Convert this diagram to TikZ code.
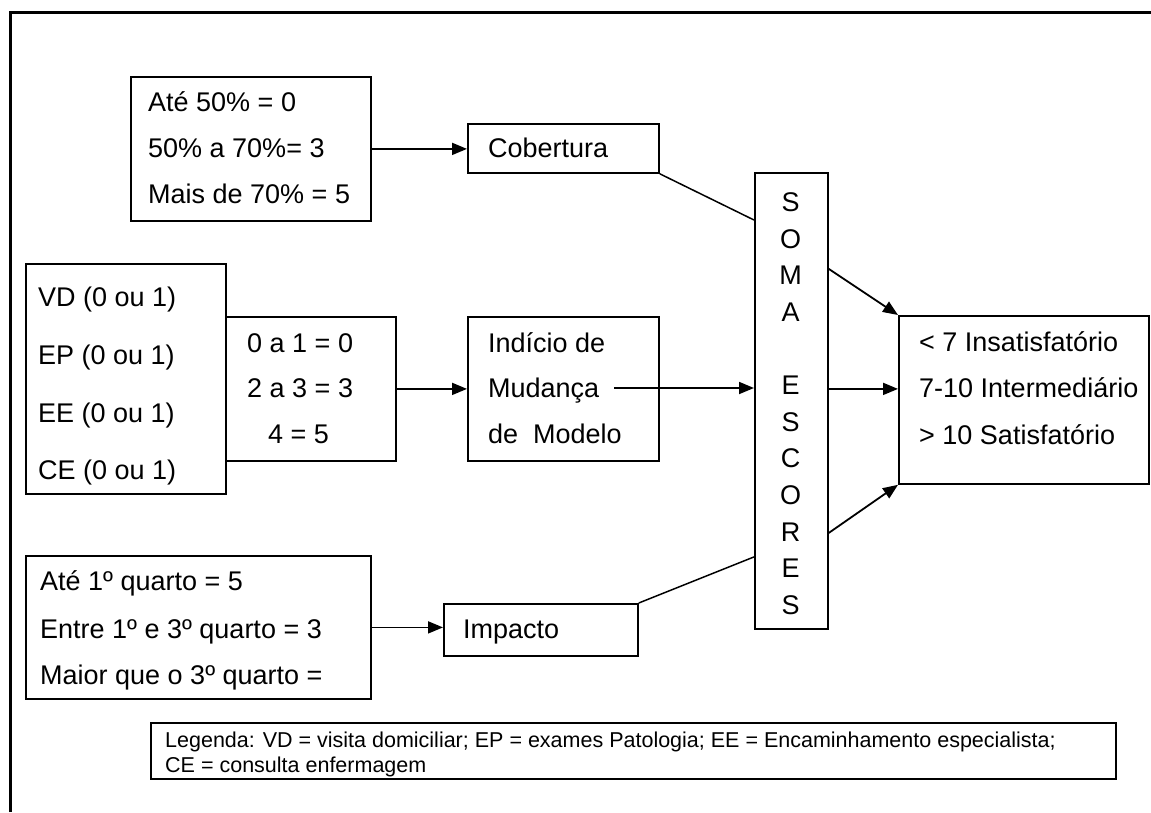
\documentclass[tikz,border=0pt]{standalone}
\usepackage{fontspec}
\setmainfont{Liberation Sans}
\usetikzlibrary{arrows.meta}
\begin{document}
\begin{tikzpicture}[x=1pt,y=-1pt,
  box/.style={draw, line width=1.8pt, inner sep=0pt, anchor=north west},
  txt/.style={anchor=base west, inner sep=0pt, yshift=-9.7pt, font=\fontsize{27}{31}\selectfont},
  lett/.style={anchor=base, inner sep=0pt, yshift=-9.7pt, font=\fontsize{27}{31}\selectfont},
  legtxt/.style={anchor=base west, inner sep=0pt, yshift=-7.6pt, font=\fontsize{21.5}{25}\selectfont},
  arr/.style={-{Triangle[length=15pt,width=12pt]}, line width=1.8pt},
  ln/.style={line width=1.5pt}]
\useasboundingbox (0,0) rectangle (1151,812);
% outer frame
\draw[line width=3pt] (10,812) -- (10,12) -- (1151,12);

% boxes
\node[box, minimum width=240pt, minimum height=144pt] (boxA) at (130,76) {};
\node[box, minimum width=191pt, minimum height=49pt] (cob) at (467,123) {};
\node[box, minimum width=73pt, minimum height=456pt] (soma) at (754,172) {};
\node[box, minimum width=200pt, minimum height=230pt] (vd) at (25,263) {};
\node[box, minimum width=170pt, minimum height=144pt] (cnt) at (225,316) {};
\node[box, minimum width=191pt, minimum height=144pt] (ind) at (467,316) {};
\node[box, minimum width=250pt, minimum height=168pt] (res) at (898,315) {};
\node[box, minimum width=345pt, minimum height=143pt] (boxC) at (25,555) {};
\node[box, minimum width=194pt, minimum height=52pt] (imp) at (443,603) {};
\node[box, minimum width=965pt, minimum height=56pt] (leg) at (150,722) {};

% texts
\node[txt] (a1) at (148,102) {Até 50\% = 0};
\node[txt] (a2) at (148,148) {50\% a 70\%= 3};
\node[txt] (a3) at (148,194) {Mais de 70\% = 5};
\node[txt] (cobt) at (488,148) {Cobertura};

\node[txt] (v1) at (38,297) {VD (0 ou 1)};
\node[txt] (v2) at (38,355) {EP (0 ou 1)};
\node[txt] (v3) at (38,413) {EE (0 ou 1)};
\node[txt] (v4) at (38,470) {CE (0 ou 1)};

\node[txt] (c1) at (247,343) {0 a 1 = 0};
\node[txt] (c2) at (247,388) {2 a 3 = 3};
\node[txt] (c3) at (268,434) {4 = 5};

\node[txt] (i1) at (488,343) {Indício de};
\node[txt] (i2) at (488,388) {Mudança};
\node[txt] (i3) at (488,434) {de~~Modelo};

\node[txt] (r1) at (919,342) {< 7 Insatisfatório};
\node[txt] (r2) at (919,388) {7-10 Intermediário};
\node[txt] (r3) at (919,435) {> 10 Satisfatório};

\node[txt] (q1) at (40,581) {Até 1º quarto = 5};
\node[txt] (q2) at (40,629) {Entre 1º e 3º quarto = 3};
\node[txt] (q3) at (40,675) {Maior que o 3º quarto =};
\node[txt] (impt) at (463,629) {Impacto};

\node[lett] (s1) at (790.5,202) {S};
\node[lett] (s2) at (790.5,238.6) {O};
\node[lett] (s3) at (790.5,275.2) {M};
\node[lett] (s4) at (790.5,311.8) {A};
\node[lett] (s5) at (790.5,385) {E};
\node[lett] (s6) at (790.5,421.6) {S};
\node[lett] (s7) at (790.5,458.2) {C};
\node[lett] (s8) at (790.5,494.8) {O};
\node[lett] (s9) at (790.5,531.4) {R};
\node[lett] (s10) at (790.5,568) {E};
\node[lett] (s11) at (790.5,604.6) {S};

\node[legtxt] (l1) at (165,740) {Legenda: VD = visita domiciliar; EP = exames Patologia; EE = Encaminhamento especialista;};
\node[legtxt] (l2) at (165,765) {CE = consulta enfermagem};

% connectors
\coordinate (mstart) at (614,388);
\draw[arr] (boxA.east) -- (boxA.east -| cob.west);
\draw[ln] (cob.south east) -- ([yshift=-48pt]soma.north west);
\draw[arr] (cnt.east) -- (cnt.east -| ind.west);
\draw[arr] (mstart) -- (mstart -| soma.west);
\draw[arr] (boxC.east) -- (boxC.east -| imp.west);
\draw[ln] (imp.north east) -- ([yshift=-156pt]soma.west);
\draw[arr] ([yshift=132pt]soma.east) -- (res.north west);
\draw[arr] ([yshift=12pt]soma.east) -- ([yshift=11pt]res.west);
\draw[arr] ([yshift=-132pt]soma.east) -- (res.south west);
\end{tikzpicture}
\end{document}
